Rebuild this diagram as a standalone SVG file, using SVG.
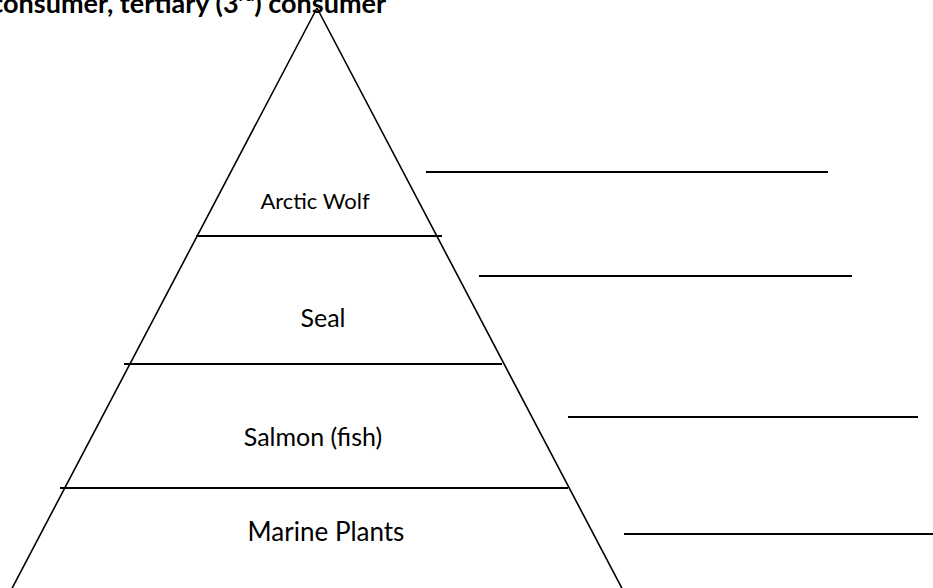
<svg xmlns="http://www.w3.org/2000/svg" width="933" height="588" viewBox="0 0 933 588">
<style>
.edge{stroke:#000;stroke-width:1.6;fill:none}
.tier{stroke:#000;stroke-width:2.2;fill:none}
.blank{stroke:#000;stroke-width:2.2;fill:none}
.lbl{font-family:Lato,"Liberation Sans",sans-serif;fill:#000;text-anchor:middle}
.title{font-family:Lato,"Liberation Sans",sans-serif;font-weight:bold;fill:#000}
</style>
<rect width="933" height="588" fill="#fff"/>
<text class="title" x="386" y="13" font-size="27" text-anchor="end">consumer, tertiary (3<tspan font-size="17" dy="-12">rd</tspan><tspan dy="12">) consumer</tspan></text>
<g id="pyramid">
<path class="edge" d="M317,8 L8,596 M317,8 L626,596"/>
</g>
<g id="connectors">
<line class="tier" x1="196" y1="236" x2="442" y2="236"/>
<line class="tier" x1="124" y1="364" x2="502" y2="364"/>
<line class="tier" x1="60" y1="488" x2="568" y2="488"/>
</g>
<g id="blanks">
<line class="blank" x1="426" y1="172" x2="828" y2="172"/>
<line class="blank" x1="479" y1="276" x2="852" y2="276"/>
<line class="blank" x1="568" y1="417" x2="918" y2="417"/>
<line class="blank" x1="624" y1="534" x2="933" y2="534"/>
</g>
<g id="node-wolf"><text class="lbl" x="315" y="209" font-size="22">Arctic Wolf</text></g>
<g id="node-seal"><text class="lbl" x="323" y="327" font-size="25">Seal</text></g>
<g id="node-salmon"><text class="lbl" x="313" y="446" font-size="25">Salmon (fish)</text></g>
<g id="node-plants"><text class="lbl" x="326" y="541" font-size="26">Marine Plants</text></g>
</svg>
